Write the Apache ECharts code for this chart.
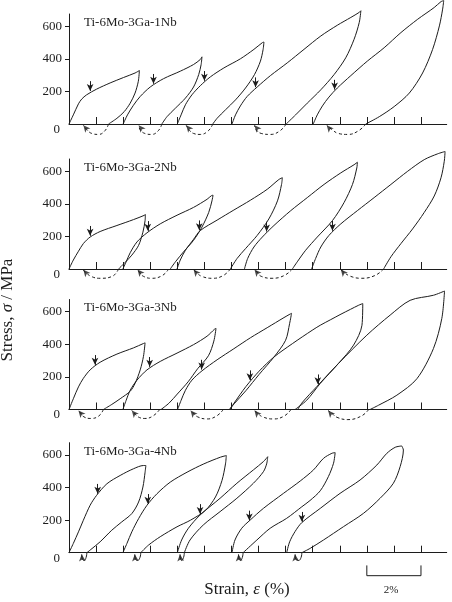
<!DOCTYPE html>
<html><head><meta charset="utf-8">
<script src="https://cdn.jsdelivr.net/npm/echarts@6/dist/echarts.min.js"></script>
<style>html,body{margin:0;padding:0;background:#fff}#c{width:452px;height:602px}</style>
</head><body><div id="c"></div>
<script>
// ---------- data (strain %, stress MPa) ----------
const strainTicks = [1,2,3,4,5,6,7,8,9,10,11,12,13];
const stressTicks = [0,200,400,600];
const stressTickMarks = [200,400,600];
const panelNames = ['Ti-6Mo-3Ga-1Nb','Ti-6Mo-3Ga-2Nb','Ti-6Mo-3Ga-3Nb','Ti-6Mo-3Ga-4Nb'];
const scaleBar = [11, 13];

// Panel 1 (1Nb)
const p1Load = [
  [[0,0],[0.16,56],[0.35,124],[0.47,153],[0.65,179],[1.02,214],[1.52,252],[2.01,285],[2.44,313],[2.6,328]],
  [[2.0,0],[2.16,56],[2.38,115],[2.63,169],[3.0,227],[3.49,278],[4.11,324],[4.6,365],[4.85,396],[4.91,412]],
  [[4.0,0],[4.14,56],[4.3,118],[4.54,179],[4.85,235],[5.22,289],[5.72,344],[6.33,400],[6.83,458],[7.14,499],[7.2,503]],
  [[6.02,0],[6.15,56],[6.33,111],[6.58,169],[6.95,227],[7.44,297],[8.06,375],[8.68,458],[9.3,540],[9.91,606],[10.41,654],[10.72,685],[10.78,695]],
  [[9.02,0],[9.17,56],[9.36,111],[9.6,165],[9.91,221],[10.41,297],[11.02,386],[11.64,468],[12.26,561],[12.88,643],[13.49,715],[13.74,751],[13.84,757]]
];
const p1Unload = [
  [[2.6,328],[2.56,262],[2.44,190],[2.26,128],[2.04,76],[1.77,35],[1.46,0]],
  [[4.91,412],[4.88,365],[4.79,303],[4.6,227],[4.3,159],[3.93,97],[3.62,45],[3.43,0]],
  [[7.2,503],[7.17,458],[7.07,386],[6.85,303],[6.52,221],[6.15,148],[5.78,87],[5.47,35],[5.31,0]],
  [[10.78,695],[10.72,623],[10.53,520],[10.22,406],[9.79,303],[9.3,210],[8.8,128],[8.37,56],[8.02,0]],
  [[13.84,757],[13.8,705],[13.68,602],[13.43,458],[13.06,313],[12.57,190],[12.01,107],[11.46,45],[10.96,0]]
];
const p1Recovery = [
  [[1.46,0],[1.33,-41],[1.09,-64],[0.84,-58],[0.65,-33],[0.53,-8]],
  [[3.43,0],[3.3,-41],[3.05,-64],[2.8,-58],[2.62,-33],[2.57,-8]],
  [[5.31,0],[5.15,-41],[4.85,-64],[4.6,-58],[4.42,-33],[4.33,-8]],
  [[8.02,0],[7.8,-41],[7.44,-64],[7.1,-58],[6.9,-33],[6.85,-8]],
  [[10.96,0],[10.7,-41],[10.3,-64],[9.95,-58],[9.7,-33],[9.52,-8]]
];
const p1Arrows = [[0.78,203],[3.12,247],[5.0,265],[6.89,226],[9.81,211]];

// Panel 2 (2Nb)
const p2Load = [
  [[0,0],[0.16,55],[0.35,109],[0.53,156],[0.78,196],[1.15,230],[1.77,267],[2.38,303],[2.79,330],[2.82,335]],
  [[1.99,0],[2.11,44],[2.26,100],[2.51,166],[2.88,222],[3.37,277],[3.99,330],[4.6,378],[5.1,428],[5.26,450],[5.32,453]],
  [[3.99,0],[4.11,55],[4.3,115],[4.6,182],[4.85,236],[5.47,300],[6.09,362],[6.7,422],[7.32,489],[7.75,549],[7.88,560]],
  [[6.48,0],[6.6,65],[6.83,135],[7.14,196],[7.57,267],[8.19,358],[8.8,438],[9.42,519],[10.04,590],[10.53,640],[10.65,655]],
  [[8.96,0],[9.11,65],[9.3,135],[9.6,206],[10.04,277],[10.65,358],[11.27,438],[11.89,519],[12.51,600],[13.12,671],[13.62,707],[13.89,721]]
];
const p2Unload = [
  [[2.82,335],[2.81,297],[2.73,226],[2.57,145],[2.32,85],[2.07,40],[1.83,0]],
  [[5.32,453],[5.28,418],[5.16,347],[4.91,257],[4.6,176],[4.23,105],[3.93,44],[3.74,0]],
  [[7.88,560],[7.85,519],[7.7,418],[7.38,307],[6.95,206],[6.52,125],[6.21,65],[5.96,0]],
  [[10.65,655],[10.63,620],[10.47,519],[10.16,408],[9.73,297],[9.17,196],[8.74,115],[8.43,44],[8.25,0]],
  [[13.89,721],[13.86,661],[13.74,560],[13.49,448],[13.12,347],[12.69,246],[12.26,156],[11.89,75],[11.62,0]]
];
const p2Recovery = [
  [[1.83,0],[1.6,-45],[1.15,-57],[0.84,-47],[0.6,-20],[0.53,-5]],
  [[3.68,0],[3.45,-40],[3.05,-57],[2.75,-45],[2.6,-20],[2.53,-3]],
  [[5.96,0],[5.7,-40],[5.3,-57],[4.9,-45],[4.7,-20],[4.6,-3]],
  [[8.25,0],[7.95,-40],[7.5,-57],[7.1,-45],[6.95,-20],[6.85,-3]],
  [[11.62,0],[11.3,-40],[10.8,-57],[10.4,-45],[10.15,-20],[10.04,-3]]
];
const p2Arrows = [[0.78,204],[2.91,234],[4.81,238],[7.3,230],[9.73,235]];

// Panel 3 (3Nb)
const p3Load = [
  [[0,0],[0.16,66],[0.35,139],[0.53,191],[0.78,243],[1.15,290],[1.77,340],[2.38,378],[2.75,405],[2.81,409]],
  [[1.99,0],[2.11,56],[2.26,118],[2.51,180],[2.88,243],[3.37,295],[3.99,346],[4.6,398],[5.1,450],[5.37,492],[5.43,498]],
  [[4.01,0],[4.14,56],[4.3,118],[4.54,180],[4.91,237],[5.47,305],[6.09,373],[6.7,440],[7.32,502],[7.94,564],[8.16,585],[8.22,590]],
  [[5.93,0],[6.1,40],[6.53,140],[7.02,235],[7.57,322],[8.25,404],[8.98,486],[9.28,517],[9.65,550],[10.01,582],[10.4,615],[10.7,640],[10.85,650]],
  [[8.45,0],[8.6,40],[9.15,140],[9.95,282],[11.0,456],[11.86,579],[12.6,670],[13.46,701],[13.87,727]]
];
const p3Unload = [
  [[2.81,409],[2.75,326],[2.63,243],[2.44,160],[2.26,112],[1.89,66],[1.58,31],[1.27,0]],
  [[5.43,498],[5.35,420],[5.15,330],[4.75,250],[4.4,170],[4.0,95],[3.7,40],[3.4,0]],
  [[8.22,590],[8.15,529],[8.0,425],[7.57,322],[7.02,215],[6.53,115],[6.1,35],[5.93,0]],
  [[10.85,650],[10.82,517],[10.51,395],[9.95,282],[9.28,160],[8.78,57],[8.35,0]],
  [[13.87,727],[13.77,559],[13.46,374],[12.85,189],[12.11,88],[11.43,26],[11.12,0]]
];
const p3Recovery = [
  [[1.27,0],[1.1,-40],[0.8,-55],[0.55,-45],[0.42,-20],[0.35,-6]],
  [[3.35,0],[3.1,-40],[2.8,-55],[2.55,-45],[2.4,-20],[2.32,-6]],
  [[5.7,0],[5.45,-40],[5.1,-58],[4.75,-45],[4.58,-20],[4.49,-6]],
  [[8.2,0],[7.95,-40],[7.55,-58],[7.15,-45],[6.95,-20],[6.85,-6]],
  [[11.07,0],[10.8,-40],[10.3,-62],[9.9,-48],[9.7,-22],[9.57,-6]]
];
const p3Arrows = [[0.96,274],[2.98,262],[4.9,245],[6.68,180],[9.19,155]];

// Panel 4 (4Nb)
const p4Load = [
  [[0,0],[0.16,57],[0.35,128],[0.53,199],[0.78,291],[1.02,352],[1.4,423],[1.89,474],[2.38,515],[2.75,535],[2.84,535]],
  [[1.99,0],[2.14,57],[2.32,128],[2.57,209],[2.88,291],[3.25,362],[3.74,433],[4.36,494],[4.98,545],[5.59,586],[5.81,596]],
  [[4.0,0],[4.16,78],[4.41,150],[4.84,231],[5.58,334],[6.2,426],[6.81,508],[7.18,559],[7.34,589]],
  [[6.02,0],[6.13,78],[6.38,150],[6.69,200],[7.18,272],[7.92,364],[8.54,440],[9.03,508],[9.4,579],[9.71,610],[9.83,614]],
  [[8.04,0],[8.15,67],[8.35,130],[8.6,185],[9.28,272],[10.01,364],[10.75,446],[11.37,538],[11.74,610],[12.05,647],[12.29,655]]
];
const p4Unload = [
  [[2.84,535],[2.81,494],[2.73,403],[2.57,311],[2.32,240],[1.95,189],[1.58,138],[1.15,67],[0.78,16],[0.66,0]],
  [[5.81,596],[5.78,545],[5.65,443],[5.41,342],[5.04,260],[4.48,199],[3.99,159],[3.37,98],[2.94,47],[2.65,0]],
  [[7.34,589],[7.3,545],[7.18,497],[6.81,426],[6.2,334],[5.58,252],[4.96,170],[4.47,78],[4.26,0]],
  [[9.83,614],[9.77,549],[9.58,467],[9.28,380],[8.9,320],[8.6,282],[8.04,211],[7.43,150],[6.94,78],[6.43,0]],
  [[12.29,655],[12.35,630],[12.23,528],[11.98,426],[11.49,334],[10.88,242],[10.14,160],[9.4,78],[8.91,27],[8.6,0]]
];
const p4Recovery = [
  [[0.66,0],[0.63,-30],[0.56,-48],[0.49,-38],[0.47,-10]],
  [[2.65,0],[2.62,-30],[2.53,-48],[2.45,-38],[2.43,-10]],
  [[4.26,0],[4.23,-30],[4.16,-48],[4.12,-38],[4.1,-10]],
  [[6.43,0],[6.4,-30],[6.33,-48],[6.28,-38],[6.26,-10]],
  [[8.6,0],[8.57,-30],[8.48,-48],[8.37,-38],[8.35,-10]]
];
const p4Arrows = [[1.06,362],[2.91,300],[4.84,238],[6.66,198],[8.6,190]];

// ---------- layout / style ----------
const INK = '#1c1c1c';
const FONT = 'Liberation Serif';
const zeroY = [124, 269, 409.5, 552.7];
const plotH = 110, yMax = 675, xMax = 13.95;
const arrowLen = 60;

const panels = [
  {load:p1Load, unload:p1Unload, rec:p1Recovery, arrows:p1Arrows, rot:40},
  {load:p2Load, unload:p2Unload, rec:p2Recovery, arrows:p2Arrows, rot:40},
  {load:p3Load, unload:p3Unload, rec:p3Recovery, arrows:p3Arrows, rot:40},
  {load:p4Load, unload:p4Unload, rec:p4Recovery, arrows:p4Arrows, rot:5}
];

const grid = [], xAxis = [], yAxis = [], title = [], series = [];
panels.forEach((p, i) => {
  const top = zeroY[i] - plotH;
  grid.push({left:69, right:5.3, top:top, height:plotH, containLabel:false, outerBoundsMode:'none'});
  xAxis.push({type:'value', gridIndex:i, min:0, max:xMax,
    axisLine:{show:true, onZero:false, lineStyle:{color:INK, width:1}},
    axisTick:{show:true, inside:true, length:7, customValues:strainTicks, lineStyle:{color:INK, width:1}},
    axisLabel:{show:false}, splitLine:{show:false}});
  yAxis.push({type:'value', gridIndex:i, min:0, max:yMax,
    axisLine:{show:true, onZero:false, lineStyle:{color:INK, width:1}},
    axisTick:{show:true, inside:false, length:4, customValues:stressTickMarks, lineStyle:{color:INK, width:1}},
    axisLabel:{show:true, customValues:stressTicks, margin:7, fontFamily:FONT, fontSize:13, color:INK,
      formatter: v => v === 0 ? '{z|0}' : String(v),
      rich:{z:{fontFamily:FONT, fontSize:13, color:INK, padding:[11,2,0,0]}}},
    splitLine:{show:false}});
  title.push({text:panelNames[i], left:84, top:top+2, padding:0,
    textStyle:{fontFamily:FONT, fontSize:13, fontWeight:'normal', color:INK}});

  const base = {xAxisIndex:i, yAxisIndex:i, silent:true, animation:false, clip:false};
  p.load.forEach((pts, j) => {
    const s = Object.assign({type:'line', data:pts, smooth:0.3, symbol:'none',
      lineStyle:{color:INK, width:1}}, base);
    if (j === 0) {
      s.markLine = {silent:true, animation:false, symbol:['none','arrow'], symbolSize:[5,7],
        lineStyle:{color:INK, width:1, type:'solid'}, label:{show:false},
        emphasis:{disabled:true},
        data: p.arrows.map(a => [{coord:[a[0], a[1] + arrowLen]}, {coord:[a[0], a[1]]}])};
    }
    series.push(s);
  });
  p.unload.forEach(pts => series.push(Object.assign({type:'line', data:pts, smooth:0.3, symbol:'none',
    lineStyle:{color:INK, width:1}}, base)));
  p.rec.forEach(pts => series.push(Object.assign({type:'line', data:pts, smooth:0.45, symbol:'none',
    lineStyle:{color:INK, width:1, type: i < 3 ? [3,2.5] : 'solid'}}, base)));
  series.push(Object.assign({type:'scatter', data:p.rec.map(r => r[r.length-1]),
    symbol:'arrow', symbolSize:[5,7], symbolRotate:p.rot, itemStyle:{color:INK}}, base));
});

// 2% scale bar under the last panel
series.push({type:'line', xAxisIndex:3, yAxisIndex:3, silent:true, animation:false, clip:false,
  symbol:'none', lineStyle:{color:INK, width:1},
  data:[[scaleBar[0],-78],[scaleBar[0],-141],[scaleBar[1],-141],[scaleBar[1],-78]]});

const chart = echarts.init(document.getElementById('c'), null, {renderer:'canvas'});
chart.setOption({
  backgroundColor:'#ffffff',
  animation:false,
  title, grid, xAxis, yAxis, series,
  graphic:[
    {type:'text', x:8, y:310, rotation:Math.PI/2, silent:true,
      style:{text:'Stress, {i|σ} / MPa', fontFamily:FONT, fontSize:17, fill:INK, align:'center', verticalAlign:'middle',
        rich:{i:{fontFamily:FONT, fontSize:17, fontStyle:'italic', fill:INK}}}},
    {type:'text', x:247, y:590, silent:true,
      style:{text:'Strain, {i|ε} (%)', fontFamily:FONT, fontSize:17, fill:INK, align:'center', verticalAlign:'middle',
        rich:{i:{fontFamily:FONT, fontSize:17, fontStyle:'italic', fill:INK}}}},
    {type:'text', x:391, y:590, silent:true,
      style:{text:'2%', fontFamily:FONT, fontSize:11, fill:INK, align:'center', verticalAlign:'middle'}}
  ]
});
</script></body></html>
